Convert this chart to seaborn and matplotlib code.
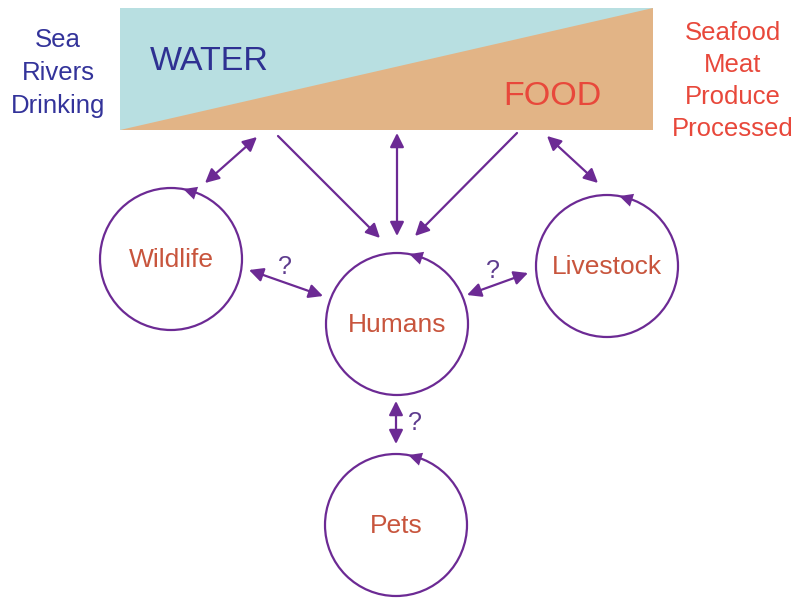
import matplotlib
matplotlib.use('Agg')
import matplotlib.pyplot as plt
import matplotlib.patches as mpatches
import numpy as np
import seaborn as sns

# 节点与文字
nodes = ['Wildlife', 'Humans', 'Livestock', 'Pets']
water_items = ['Sea', 'Rivers', 'Drinking']
food_items = ['Seafood', 'Meat', 'Produce', 'Processed']
links = [('Wildlife', 'Humans'), ('Humans', 'Livestock'), ('Humans', 'Pets')]
link_labels = ['?', '?', '?']

# 布局（像素坐标）
node_xy = {'Wildlife': (171, 259), 'Humans': (397, 324),
           'Livestock': (607, 266), 'Pets': (396, 525)}
node_r = 71
box = (120, 8, 653, 130)  # x0, y0, x1, y1

purple = '#6C2A94'
blue = '#33339A'
red = '#E8483B'
label_c = '#C8553D'

sns.set_theme(style='white')
plt.rcParams['font.family'] = ['Liberation Sans', 'DejaVu Sans']

fig = plt.figure(figsize=(7.95, 5.98), dpi=100)
ax = fig.add_axes([0, 0, 1, 1])
ax.set_xlim(0, 795)
ax.set_ylim(598, 0)
ax.axis('off')

# 水 / 食物 方块
x0, y0, x1, y1 = box
ax.fill([x0, x1, x1, x0], [y0, y0, y1, y1], color='#B8DFE1', lw=0)
ax.fill([x0, x1, x1], [y1, y0, y1], color='#E2B486', lw=0)
ax.text(150, 70, 'WATER', color='#2E3192', fontsize=24.5)
ax.text(503, 105, 'FOOD', color=red, fontsize=24.5)

for i, t in enumerate(water_items):
    ax.text(58, 47 + 33 * i, t, color=blue, fontsize=18.5, ha='center')
for i, t in enumerate(food_items):
    ax.text(733, 40 + 32 * i, t, color=red, fontsize=18.5, ha='center')

# 圆圈
for n in nodes:
    cx, cy = node_xy[n]
    ax.add_patch(mpatches.Circle((cx, cy), node_r, fill=False, ec=purple, lw=1.6))
    ax.text(cx, cy + 8, n, color=label_c, fontsize=19, ha='center')
    # 圆上的小箭头（逆时针）
    a_tip, a_tail = np.deg2rad(80), np.deg2rad(64)
    tip = (cx + node_r * np.cos(a_tip), cy - node_r * np.sin(a_tip))
    tail = (cx + node_r * np.cos(a_tail), cy - node_r * np.sin(a_tail))
    ax.annotate('', xy=tip, xytext=tail,
                arrowprops=dict(arrowstyle='-|>', color=purple, lw=0,
                                mutation_scale=24, shrinkA=0, shrinkB=0))


def arrow(p, q, style):
    ax.annotate('', xy=q, xytext=p,
                arrowprops=dict(arrowstyle=style, color=purple, lw=1.6,
                                mutation_scale=21, shrinkA=0, shrinkB=0))


# 方块与节点之间的箭头
arrow((257, 137), (205, 183), '<|-|>')
arrow((278, 136), (380, 238), '-|>')
arrow((397, 133), (397, 236), '<|-|>')
arrow((517, 133), (415, 236), '-|>')
arrow((547, 136), (598, 183), '<|-|>')

# 节点之间的箭头
link_pts = [((249, 270), (323, 296), (285, 274)),
            ((467, 295), (528, 273), (493, 278)),
            ((396, 401), (396, 444), (415, 430))]
for (a, b), lab, (p, q, t) in zip(links, link_labels, link_pts):
    arrow(p, q, '<|-|>')
    ax.text(t[0], t[1], lab, color='#5E3C8E', fontsize=18, ha='center')

plt.savefig('out.png', dpi=100)
